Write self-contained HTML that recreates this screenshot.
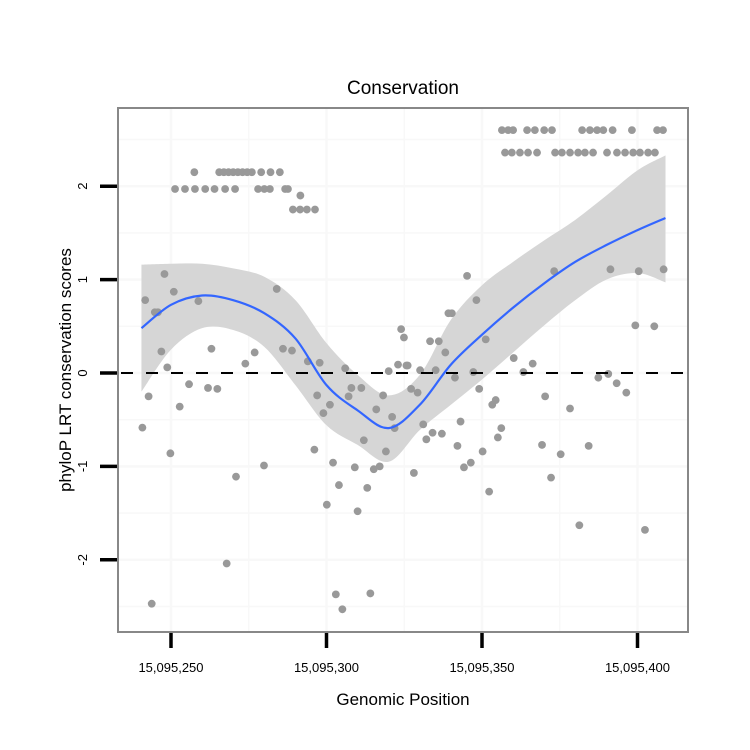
<!DOCTYPE html>
<html><head><meta charset="utf-8"><style>
body{margin:0;background:#fff;}
svg{display:block;font-family:"Liberation Sans",sans-serif;}
</style></head><body>
<svg id="chart" width="750" height="750"></svg>
<script>
// data (x as offset from 15,095,000)
const xTicks=[15095250,15095300,15095350,15095400];
const xTickLabels=["15,095,250","15,095,300","15,095,350","15,095,400"];
const yTicks=[-2,-1,0,1,2];
const yTickLabels=["-2","-1","0","1","2"];
const ptX=[257.5,265.5,267,268.5,270,271.5,273,274.5,276,279,282,285,
251.3,254.5,257.7,261,264,267.4,270.6,278,280,281.8,286.7,287.6,291.6,289.2,291.5,293.7,296.3,
356.4,358.4,360,364.5,367,370,372.5,382.2,384.7,387,389,392,398.2,406.3,408.2,
357.4,359.6,362.2,364.8,367.7,373.5,375.7,378.3,380.9,383.1,385.7,390.2,393.4,396,398.6,400.8,403.4,405.6,
241.7,247.9,250.9,258.8,244.8,245.8,284,246.9,263,276.9,286,288.9,294,297.8,248.8,273.9,306,324,324.9,320,323,325.7,
242.8,255.8,252.8,261.9,264.9,240.8,249.8,270.9,279.9,267.9,243.8,297,301.1,299,308,311.2,307.1,318.2,316,321.1,321.9,312,319.1,296.1,302.1,309.1,315.2,317.1,304,313.1,300.1,310,303,314.1,305.1,
345.2,348.2,339.2,340.3,373.2,391.3,400.4,408.4,399.3,405.4,333.3,336.1,338.2,351.2,360.2,366.3,326.1,330.1,335.1,347.2,363.3,387.4,390.6,
327.2,329.3,349.1,370.3,353.3,354.4,378.3,393.3,396.4,331.1,334.1,337.1,332.1,343.1,356.2,355.1,342.1,350.2,344.2,346.4,328.1,352.3,369.3,375.3,372.2,384.3,381.3,402.4,341.3];
const ptY=[2.15,2.15,2.15,2.15,2.15,2.15,2.15,2.15,2.15,2.15,2.15,2.15,
1.97,1.97,1.97,1.97,1.97,1.97,1.97,1.97,1.97,1.97,1.97,1.97,1.9,1.75,1.75,1.75,1.75,
2.6,2.6,2.6,2.6,2.6,2.6,2.6,2.6,2.6,2.6,2.6,2.6,2.6,2.6,2.6,
2.36,2.36,2.36,2.36,2.36,2.36,2.36,2.36,2.36,2.36,2.36,2.36,2.36,2.36,2.36,2.36,2.36,2.36,
0.78,1.06,0.87,0.77,0.65,0.65,0.9,0.23,0.26,0.22,0.26,0.24,0.125,0.11,0.06,0.1,0.05,0.47,0.38,0.02,0.09,0.08,
-0.25,-0.12,-0.36,-0.16,-0.17,-0.585,-0.86,-1.11,-0.99,-2.04,-2.47,-0.24,-0.34,-0.43,-0.16,-0.16,-0.25,-0.24,-0.39,-0.47,-0.59,-0.72,-0.84,-0.82,-0.96,-1.01,-1.03,-1.0,-1.2,-1.23,-1.41,-1.48,-2.37,-2.36,-2.53,
1.04,0.78,0.64,0.64,1.09,1.11,1.09,1.11,0.51,0.5,0.34,0.34,0.22,0.36,0.16,0.1,0.08,0.03,0.03,0.01,0.01,-0.05,-0.01,
-0.17,-0.21,-0.17,-0.25,-0.34,-0.29,-0.38,-0.11,-0.21,-0.55,-0.64,-0.65,-0.71,-0.52,-0.59,-0.69,-0.78,-0.84,-1.01,-0.96,-1.07,-1.27,-0.77,-0.87,-1.12,-0.78,-1.63,-1.68,-0.05];
const fitX=[240.5,250,260,270,280,290,300,310,320,330,340,350,360,370,380,390,400,409];
const fitY=[0.48,0.73,0.83,0.78,0.64,0.37,-0.13,-0.4,-0.59,-0.34,0.09,0.41,0.70,0.96,1.19,1.37,1.53,1.66];
const fitUpper=[1.16,1.17,1.17,1.12,1.03,0.78,0.32,-0.02,-0.24,-0.02,0.57,0.94,1.19,1.42,1.64,1.9,2.17,2.33];
const fitLower=[-0.2,0.25,0.48,0.46,0.28,-0.13,-0.56,-0.77,-0.95,-0.61,-0.34,-0.07,0.22,0.51,0.78,1.0,1.07,0.97];

const NS='http://www.w3.org/2000/svg';
const svg=document.getElementById('chart');
const L=118,R=688,T=108,B=632;
const sx=v=>171+(v-15095250)*3.11;
const sxo=v=>sx(15095000+v);
const sy=v=>373-v*93.4;
function mk(tag,attrs,parent){const e=document.createElementNS(NS,tag);for(const k in attrs)e.setAttribute(k,attrs[k]);(parent||svg).appendChild(e);return e;}

const bg=mk('rect',{x:L,y:T,width:R-L,height:B-T,fill:'#fff'});


const grid=mk('g',{});


for(let v=-2.5;v<=2.5;v+=0.5){mk('line',{x1:L,x2:R,y1:sy(v),y2:sy(v),stroke:'#f8f8f8','stroke-width':Number.isInteger(v)?2.5:1.5},grid);}
for(let v=15095225;v<=15095425;v+=25){const x=sx(v);if(x<L||x>R)continue;mk('line',{x1:x,x2:x,y1:T,y2:B,stroke:'#f8f8f8','stroke-width':(v%50===0)?2.5:1.5},grid);}

function pathFrom(xs,ys){let d='';for(let i=0;i<xs.length;i++){const x=sxo(xs[i]),y=sy(ys[i]);if(i===0){d+='M'+x+','+y;continue;}
const x0=sxo(xs[Math.max(i-2,0)]),y0=sy(ys[Math.max(i-2,0)]),x1=sxo(xs[i-1]),y1=sy(ys[i-1]),x3=sxo(xs[Math.min(i+1,xs.length-1)]),y3=sy(ys[Math.min(i+1,xs.length-1)]);
d+=' C'+(x1+(x-x0)/6)+','+(y1+(y-y0)/6)+' '+(x-(x3-x1)/6)+','+(y-(y3-y1)/6)+' '+x+','+y;}return d;}
const rx=fitX.slice().reverse(),rl=fitLower.slice().reverse();
let up=pathFrom(fitX,fitUpper);let lo=pathFrom(rx,rl).replace(/^M/,' L');
const band=mk('path',{d:up+lo+' Z',fill:'#d6d6d6'});


const pts=mk('g',{});


for(let i=0;i<ptX.length;i++){const c=mk('circle',{cx:sxo(ptX[i]),cy:sy(ptY[i]),r:3.9,fill:'#999'},pts);

}
const z=mk('line',{x1:L,x2:R,y1:sy(0),y2:sy(0),stroke:'#000','stroke-width':2,'stroke-dasharray':'12,13','stroke-dashoffset':'-3'});


const fl=mk('path',{d:pathFrom(fitX,fitY),fill:'none',stroke:'#3366ff','stroke-width':2.2});


const bd=mk('rect',{x:L,y:T,width:R-L,height:B-T,fill:'none',stroke:'#888','stroke-width':2});


for(let i=0;i<xTicks.length;i++){const x=sx(xTicks[i]);
const t=mk('line',{x1:x,x2:x,y1:633,y2:648,stroke:'#000','stroke-width':3.5});


const lb=mk('text',{x:x,y:672,'text-anchor':'middle','font-size':13,fill:'#000'});lb.textContent=xTickLabels[i];

}
for(let i=0;i<yTicks.length;i++){const y=sy(yTicks[i]);
const t=mk('line',{x1:100,x2:117,y1:y,y2:y,stroke:'#000','stroke-width':3.5});


const lb=mk('text',{x:0,y:0,transform:'translate(87,'+y+') rotate(-90)','text-anchor':'middle','font-size':13,fill:'#000'});lb.textContent=yTickLabels[i];

}
</script>
<script>
const s2=document.getElementById('chart');
const ns2='http://www.w3.org/2000/svg';
const tt=document.createElementNS(ns2,'text');
tt.setAttribute('x',403);tt.setAttribute('y',94);tt.setAttribute('text-anchor','middle');tt.setAttribute('font-size',19);
tt.textContent='Conservation';


s2.appendChild(tt);
const xl=document.createElementNS(ns2,'text');
xl.setAttribute('x',403);xl.setAttribute('y',705);xl.setAttribute('text-anchor','middle');xl.setAttribute('font-size',17);
xl.textContent='Genomic Position';


s2.appendChild(xl);
const yl=document.createElementNS(ns2,'text');
yl.setAttribute('transform','translate(71,370) rotate(-90)');yl.setAttribute('text-anchor','middle');yl.setAttribute('font-size',17);
yl.textContent='phyloP LRT conservation scores';


s2.appendChild(yl);
</script>
</body></html>
